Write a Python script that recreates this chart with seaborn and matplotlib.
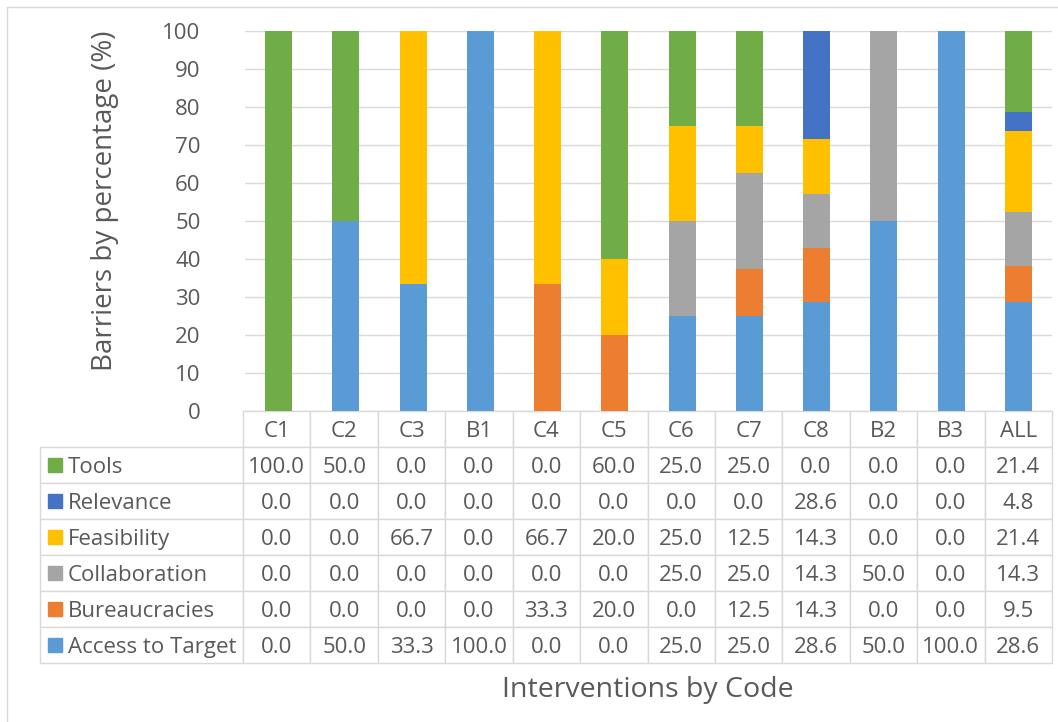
import numpy as np
import pandas as pd
import seaborn as sns
from matplotlib import pyplot as plt
from matplotlib.patches import Rectangle
from matplotlib.lines import Line2D

# Donnees
codes = ["C1", "C2", "C3", "B1", "C4", "C5", "C6", "C7", "C8", "B2", "B3", "ALL"]
tools = [100.0, 50.0, 0.0, 0.0, 0.0, 60.0, 25.0, 25.0, 0.0, 0.0, 0.0, 21.4]
relevance = [0.0, 0.0, 0.0, 0.0, 0.0, 0.0, 0.0, 0.0, 28.6, 0.0, 0.0, 4.8]
feasibility = [0.0, 0.0, 66.7, 0.0, 66.7, 20.0, 25.0, 12.5, 14.3, 0.0, 0.0, 21.4]
collaboration = [0.0, 0.0, 0.0, 0.0, 0.0, 0.0, 25.0, 25.0, 14.3, 50.0, 0.0, 14.3]
bureaucracies = [0.0, 0.0, 0.0, 0.0, 33.3, 20.0, 0.0, 12.5, 14.3, 0.0, 0.0, 9.5]
access = [0.0, 50.0, 33.3, 100.0, 0.0, 0.0, 25.0, 25.0, 28.6, 50.0, 100.0, 28.6]

barriers = ["Tools", "Relevance", "Feasibility", "Collaboration",
            "Bureaucracies", "Access to Target"]
colors = ["#70AD47", "#4472C4", "#FFC000", "#A5A5A5", "#ED7D31", "#5B9BD5"]

df = pd.DataFrame({"Tools": tools, "Relevance": relevance, "Feasibility": feasibility,
                   "Collaboration": collaboration, "Bureaucracies": bureaucracies,
                   "Access to Target": access}, index=codes)

sns.set_style("white")
plt.rcParams["font.family"] = ["Open Sans", "DejaVu Sans"]
text_color = "#595959"
grid_color = "#D9D9D9"
fs = 16

W, H = 1058, 722
fig = plt.figure(figsize=(W / 100, H / 100), dpi=100)
ax_l, ax_r, ax_t, ax_b = 245, 1052, 31, 411
ax = fig.add_axes([ax_l / W, 1 - ax_b / H, (ax_r - ax_l) / W, (ax_b - ax_t) / H])

# Barres empilees: sommes cumulees tracees du haut vers le bas
cum = df[barriers[::-1]].cumsum(axis=1)
for name, col in zip(barriers, colors):
    sns.barplot(x=codes, y=cum[name].values, color=col, saturation=1,
                width=0.4, ax=ax, linewidth=0)

ax.set_ylim(0, 100)
ax.set_xlim(-0.5, len(codes) - 0.5)
ax.set_yticks(np.arange(0, 101, 10))
ax.set_xticks(range(len(codes)))
ax.set_xticklabels([])
ax.tick_params(axis="y", length=0, pad=32, labelsize=fs, labelcolor=text_color)
ax.tick_params(axis="x", length=0)
ax.yaxis.grid(True, color=grid_color, linewidth=1)
ax.set_axisbelow(True)
for s in ax.spines.values():
    s.set_visible(False)
ax.set_xlabel("")
ax.set_ylabel("")

# Tableau de donnees sous le graphique
ax_w_px = ax_r - ax_l
ax_h_px = ax_b - ax_t
tab_left = 40
tab_bottom = 663
x0 = (tab_left - ax_l) / ax_w_px
tw = (ax_r - tab_left) / ax_w_px
th = (tab_bottom - ax_b) / ax_h_px
label_w = (243 - tab_left)
col_w = (ax_r - 243) / len(codes)

cell_text = [[""] + [f"{v:.1f}" for v in df[b]] for b in barriers]
tbl = ax.table(cellText=cell_text, colLabels=[""] + codes,
               colWidths=[label_w] + [col_w] * len(codes),
               bbox=[x0, -th, tw, th], cellLoc="center")
tbl.auto_set_font_size(False)
tbl.set_fontsize(fs)
for (r, c), cell in tbl.get_celld().items():
    cell.set_edgecolor(grid_color)
    cell.set_linewidth(1)
    cell.get_text().set_color(text_color)
    cell.get_text().set_va("center_baseline")
    if r == 0 and c == 0:
        cell.visible_edges = "open"

# Libelles des lignes avec carres de legende
n_rows = len(barriers) + 1
rh = th / n_rows
for i, (name, col) in enumerate(zip(barriers, colors)):
    yc = -(i + 1.5) * rh
    sq_w = 14 / ax_w_px
    sq_h = 14 / ax_h_px
    ax.add_patch(Rectangle(((48 - ax_l) / ax_w_px, yc - sq_h / 2), sq_w, sq_h,
                           transform=ax.transAxes, color=col, clip_on=False))
    ax.text((68 - ax_l) / ax_w_px, yc, name, transform=ax.transAxes,
            ha="left", va="center_baseline", fontsize=fs, color=text_color)

# Titres des axes
fig.text(105 / W, 1 - 201 / H, "Barriers by percentage (%)", rotation=90,
         ha="center", va="center", fontsize=20, color=text_color)
fig.text(648 / W, 1 - 697 / H, "Interventions by Code",
         ha="center", va="baseline", fontsize=20.5, color=text_color)

# Cadre exterieur
fig.add_artist(Line2D([7 / W, 7 / W], [0, 1 - 7 / H], transform=fig.transFigure,
                      color=grid_color, linewidth=1))
fig.add_artist(Line2D([7 / W, 1], [1 - 7 / H, 1 - 7 / H], transform=fig.transFigure,
                      color=grid_color, linewidth=1))

fig.savefig("out.png", dpi=100)
